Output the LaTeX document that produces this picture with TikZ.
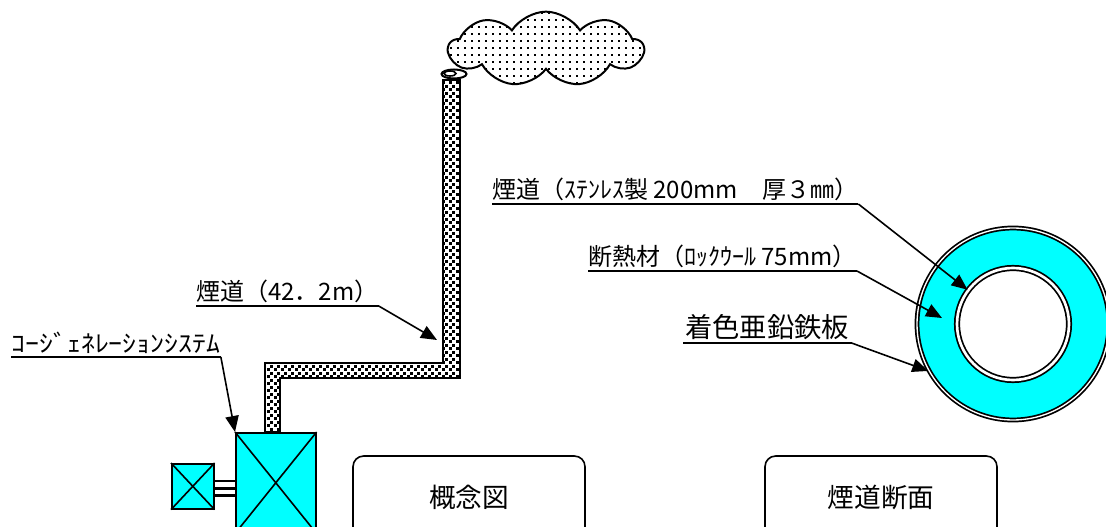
\documentclass[tikz,border=0pt]{standalone}
\usepackage{fontspec}
\setmainfont{Noto Sans CJK JP}
\usepackage{xcolor}
\usetikzlibrary{arrows.meta,shapes.symbols,patterns.meta,positioning}

\definecolor{panel}{RGB}{0,255,255}

% soot-filled flue and smoke dots
\tikzdeclarepattern{
  name=soot, type=uncolored,
  bounding box={(0pt,0pt) and (5pt,5pt)}, tile size={(5pt,5pt)},
  code={\fill (0pt,0pt) rectangle (2.2pt,2.2pt);
        \fill (2.5pt,2.5pt) rectangle (4.7pt,4.7pt);}
}
\tikzdeclarepattern{
  name=smokedots, type=uncolored,
  bounding box={(0pt,0pt) and (5.2pt,5.2pt)}, tile size={(5.2pt,5.2pt)},
  code={\fill (0pt,0pt) rectangle (1.4pt,1.4pt);}
}

\begin{document}
\begin{tikzpicture}[
    x=0.75pt, y=-0.75pt,
    lbl/.style={inner xsep=0pt, inner ysep=2pt, anchor=south west, font=\fontsize{18}{20}\selectfont},
    uline/.style={line width=1.5pt},
    arrow/.style={-{Triangle[length=12pt,width=10pt]}, line width=1.2pt},
    caption/.style={draw, rounded corners=8pt, line width=1.2pt, minimum width=174pt, minimum height=61.5pt, font=\fontsize{20}{24}\selectfont},
    unit/.style={draw, fill=panel, line width=1.2pt, inner sep=0pt},
    shaft/.style={line width=1.8pt}
]
    \useasboundingbox (0,0) rectangle (1106,527);

    % smoke and flue
    \node[cloud, draw, line width=1.5pt, cloud puffs=9, cloud puff arc=115, aspect=2.6,
          minimum width=146pt, minimum height=56pt, pattern=smokedots] (smoke) at (546,49) {};
    \draw[line width=1.5pt, pattern=soot] (443,80) -- (460,80) -- (460,378) -- (280,378)
        -- (280,432) -- (265,432) -- (265,363) -- (443,363) -- cycle;
    \draw[line width=1.5pt, fill=white] (454,74) ellipse [x radius=12.5, y radius=4.5];
    \draw[line width=1.2pt] (450,73.5) ellipse [x radius=6, y radius=2.5];

    % generator set
    \node[unit, minimum width=60pt, minimum height=75pt, anchor=north west] (engine) at (235,432) {};
    \node[unit, minimum width=31.5pt, minimum height=33.75pt, anchor=north west] (motor) at (171,463) {};
    \draw[line width=1.2pt] (engine.north west) -- (engine.south east) (engine.north east) -- (engine.south west);
    \draw[line width=1.2pt] (motor.north west) -- (motor.south east) (motor.north east) -- (motor.south west);
    \foreach \dy in {-7,-1.5,4}
        \draw[shaft] ([yshift=\dy pt]motor.east) -- ([yshift=\dy pt]motor.east -| engine.west);

    % cross section
    \node[circle, draw, fill=panel, line width=1.3pt, double=white, double distance=1pt,
          minimum size=144pt, inner sep=0pt] (jacket) at (1013,324) {};
    \node[circle, draw, fill=white, line width=1.3pt, double=white, double distance=2pt,
          minimum size=84pt, inner sep=0pt] (tube) at (jacket) {};
    \coordinate (woolpt) at (942,318);

    % labels
    \node[lbl, minimum width=127.5pt] (fluelbl) at (196,306) {煙道（42．2m）};
    \node[lbl, minimum width=157pt] (cgslbl) at (11,357) {\scalebox{1.16}[1]{ｺｰｼﾞｪﾈﾚｰｼｮﾝｼｽﾃﾑ}};
    \node[lbl, minimum width=267pt] (tubelbl) at (492,204) {煙道（ｽﾃﾝﾚｽ製 200mm　厚３㎜）};
    \node[lbl, minimum width=194pt] (woollbl) at (588,271) {断熱材（ﾛｯｸｳｰﾙ 75mm）};
    \node[lbl, minimum width=126pt, font=\fontsize{20.5}{22}\selectfont] (platelbl) at (683,343) {着色亜鉛鉄板};

    \foreach \l in {fluelbl,cgslbl,tubelbl,woollbl,platelbl}
        \draw[uline] (\l.south west) -- (\l.south east);

    \draw[arrow] (fluelbl.south east) -- (437,340);
    \draw[arrow] (cgslbl.south east) -- (engine.north west);
    \draw[arrow] (tubelbl.south east) -- (tube.143);
    \draw[arrow] (woollbl.south east) -- (woolpt);
    \draw[arrow] (platelbl.south east) -- (jacket.209);

    % captions
    \node[caption] (concept) at (469,497) {概念図};
    \node[caption] (section) at (881,497) {煙道断面};
\end{tikzpicture}
\end{document}
